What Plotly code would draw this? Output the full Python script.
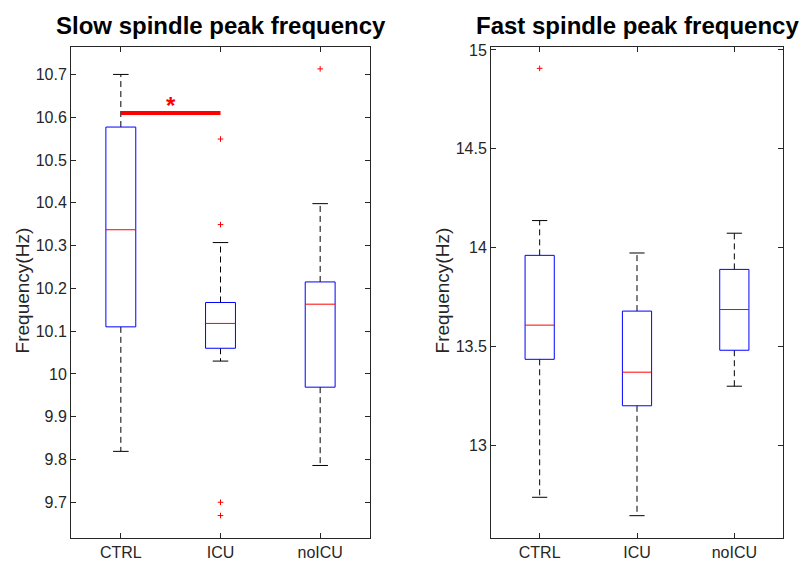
import plotly.graph_objects as go

categories = ["CTRL", "ICU", "noICU"]
positions = [1, 2, 3]

slow_q1 = [10.110, 10.060, 9.969]
slow_median = [10.337, 10.118, 10.163]
slow_q3 = [10.577, 10.167, 10.215]
slow_lower = [9.819, 10.030, 9.786]
slow_upper = [10.700, 10.307, 10.398]
slow_outliers = [[], [10.549, 10.349, 9.700, 9.669], [10.713]]
slow_ticks = [9.7, 9.8, 9.9, 10.0, 10.1, 10.2, 10.3, 10.4, 10.5, 10.6, 10.7]
slow_ticktext = ["9.7", "9.8", "9.9", "10", "10.1", "10.2", "10.3", "10.4", "10.5", "10.6", "10.7"]

fast_q1 = [13.435, 13.200, 13.481]
fast_median = [13.608, 13.370, 13.687]
fast_q3 = [13.961, 13.679, 13.890]
fast_lower = [12.737, 12.644, 13.299]
fast_upper = [14.137, 13.973, 14.073]
fast_outliers = [[14.907], [], []]
fast_ticks = [13, 13.5, 14, 14.5, 15]
fast_ticktext = ["13", "13.5", "14", "14.5", "15"]

sig_pair = [1, 2]
sig_level = 10.61

BOX_HALF = 0.15
CAP_HALF = 0.078
AX_COLOR = "#262626"
FONT = "Liberation Sans, Arial, Helvetica, sans-serif"

fig = go.Figure()


def add_boxes(q1, med, q3, lo, hi, outs, xa, ya):
    bx, by, mx, my, wx, wy, cx, cy, ox, oy = [], [], [], [], [], [], [], [], [], []
    for i, x in enumerate(positions):
        bx += [x - BOX_HALF, x + BOX_HALF, x + BOX_HALF, x - BOX_HALF, x - BOX_HALF, None]
        by += [q1[i], q1[i], q3[i], q3[i], q1[i], None]
        mx += [x - BOX_HALF, x + BOX_HALF, None]
        my += [med[i], med[i], None]
        wx += [x, x, None, x, x, None]
        wy += [q3[i], hi[i], None, q1[i], lo[i], None]
        cx += [x - CAP_HALF, x + CAP_HALF, None, x - CAP_HALF, x + CAP_HALF, None]
        cy += [hi[i], hi[i], None, lo[i], lo[i], None]
        for v in outs[i]:
            ox.append(x)
            oy.append(v)
    common = dict(xaxis=xa, yaxis=ya, mode="lines", showlegend=False, hoverinfo="skip")
    fig.add_trace(go.Scatter(x=wx, y=wy, line=dict(color="black", width=1, dash="6px,4px"), **common))
    fig.add_trace(go.Scatter(x=cx, y=cy, line=dict(color="black", width=1), **common))
    fig.add_trace(go.Scatter(x=bx, y=by, line=dict(color="#0000FF", width=1), **common))
    fig.add_trace(go.Scatter(x=mx, y=my, line=dict(color="#FF0000", width=1), **common))
    fig.add_trace(go.Scatter(x=ox, y=oy, xaxis=xa, yaxis=ya, mode="markers", showlegend=False,
                             marker=dict(symbol="cross-thin", size=4, line=dict(color="#FF0000", width=1))))


add_boxes(slow_q1, slow_median, slow_q3, slow_lower, slow_upper, slow_outliers, "x", "y")
add_boxes(fast_q1, fast_median, fast_q3, fast_lower, fast_upper, fast_outliers, "x2", "y2")

# significance bar
fig.add_trace(go.Scatter(x=sig_pair, y=[sig_level, sig_level], xaxis="x", yaxis="y", mode="lines",
                         line=dict(color="#FF0000", width=4), showlegend=False, hoverinfo="skip"))

axis_common = dict(showline=True, linecolor=AX_COLOR, linewidth=1, mirror="ticks", ticks="inside",
                   ticklen=5, tickcolor=AX_COLOR, showgrid=False, zeroline=False,
                   tickfont=dict(family=FONT, size=16, color=AX_COLOR))

fig.update_layout(
    width=802, height=562,
    margin=dict(l=0, r=0, t=0, b=0),
    plot_bgcolor="white", paper_bgcolor="white",
    xaxis=dict(domain=[71 / 802, 370 / 802], range=[0.5, 3.5], tickvals=positions, ticktext=categories,
               anchor="y", **axis_common),
    yaxis=dict(domain=[1 - 538 / 562, 1 - 42 / 562], range=[9.616, 10.765], tickvals=slow_ticks,
               ticktext=slow_ticktext, anchor="x", **axis_common),
    xaxis2=dict(domain=[491 / 802, 783 / 802], range=[0.5, 3.5], tickvals=positions, ticktext=categories,
                anchor="y2", **axis_common),
    yaxis2=dict(domain=[1 - 538 / 562, 1 - 42 / 562], range=[12.53, 15.017], tickvals=fast_ticks,
                ticktext=fast_ticktext, anchor="x2", **axis_common),
    annotations=[
        dict(text="<b>Slow spindle peak frequency</b>", x=220.5 / 802, y=1 - 21 / 562, xref="paper", yref="paper",
             xanchor="center", yanchor="middle", showarrow=False, font=dict(family=FONT, size=24, color="black")),
        dict(text="<b>Fast spindle peak frequency</b>", x=637.5 / 802, y=1 - 21 / 562, xref="paper", yref="paper",
             xanchor="center", yanchor="middle", showarrow=False, font=dict(family=FONT, size=24, color="black")),
        dict(text="Frequency(Hz)", x=22 / 802, y=1 - 288 / 562, xref="paper", yref="paper", textangle=-90,
             xanchor="center", yanchor="middle", showarrow=False, font=dict(family=FONT, size=19, color=AX_COLOR)),
        dict(text="Frequency(Hz)", x=442 / 802, y=1 - 288 / 562, xref="paper", yref="paper", textangle=-90,
             xanchor="center", yanchor="middle", showarrow=False, font=dict(family=FONT, size=19, color=AX_COLOR)),
        dict(text="<b>*</b>", x=sum(sig_pair) / 2, y=sig_level, xref="x", yref="y", xanchor="center",
             yanchor="bottom", yshift=-8, showarrow=False, font=dict(family=FONT, size=24, color="#FF0000")),
    ],
)

fig.write_html("out.html")
